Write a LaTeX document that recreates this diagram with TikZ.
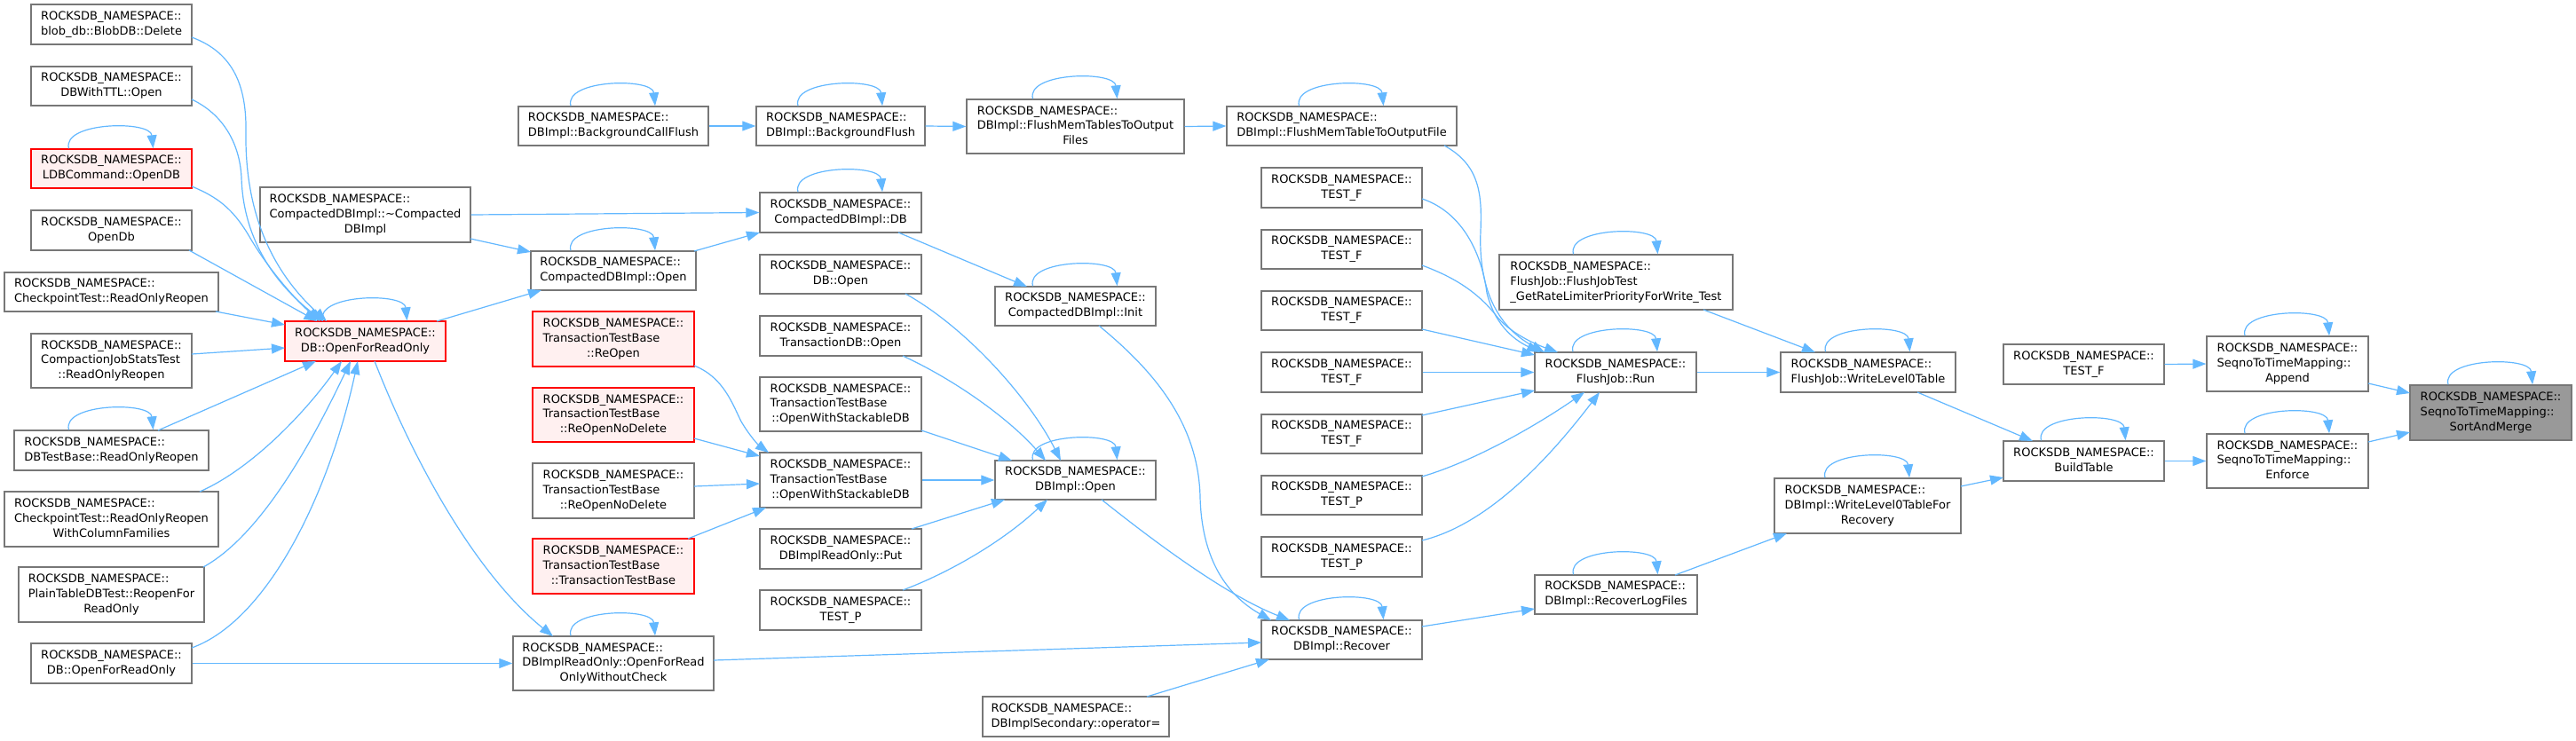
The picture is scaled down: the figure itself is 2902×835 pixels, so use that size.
\documentclass[tikz,border=0pt]{standalone}
\usepackage{fontspec}
\setmainfont{DejaVu Sans}
\usetikzlibrary{arrows.meta,calc}
\definecolor{edgec}{HTML}{63B8FF}
\definecolor{bord}{HTML}{777777}
\definecolor{rfill}{HTML}{FFF0F0}
\definecolor{gfill}{HTML}{999999}
\newcommand\lb[2]{\begin{tabular}{@{}l@{}}#1\\\multicolumn{1}{@{}c@{}}{#2}\end{tabular}}
\newcommand\rns{ROCKSDB\_NAMESPACE::}
\tikzset{
  nbox/.style={draw=bord, line width=1.4pt, fill=white, inner sep=0pt, text=black,
    font=\fontsize{13}{16.7}\selectfont},
  rbox/.style={nbox, draw=red, fill=rfill},
  gbox/.style={nbox, fill=gfill},
  sz/.style 2 args={minimum width=#1pt, minimum height=#2pt},
  cedge/.style={draw=edgec, line width=1.2pt, -{Triangle[length=15pt,width=11pt]}},
}
\begin{document}
\begin{tikzpicture}[x=1pt,y=-1pt]
\useasboundingbox[fill=white] (0,0) rectangle (2902,835);
% column 1
\node[nbox,sz={181}{45}] (blobdel) at (125.5,27.5) {\lb{\rns}{blob\_db::BlobDB::Delete}};
\node[nbox,sz={181}{44}] (ttl) at (125.5,97) {\lb{\rns}{DBWithTTL::Open}};
\node[rbox,sz={181}{44}] (ldb) at (125.5,190) {\lb{\rns}{LDBCommand::OpenDB}};
\node[nbox,sz={181}{45}] (opendb) at (125.5,259.5) {\lb{\rns}{OpenDb}};
\node[nbox,sz={241}{44}] (cpro) at (125.5,329) {\lb{\rns}{CheckpointTest::ReadOnlyReopen}};
\node[nbox,sz={181}{61}] (cjst) at (125.5,406.5) {\lb{\rns\\CompactionJobStatsTest}{::ReadOnlyReopen}};
\node[nbox,sz={219}{45}] (dbtb) at (125.5,507.5) {\lb{\rns}{DBTestBase::ReadOnlyReopen}};
\node[nbox,sz={241}{62}] (cprocf) at (125.5,585) {\lb{\rns\\CheckpointTest::ReadOnlyReopen}{WithColumnFamilies}};
\node[nbox,sz={209}{62}] (ptdb) at (125.5,670) {\lb{\rns\\PlainTableDBTest::ReopenFor}{ReadOnly}};
\node[nbox,sz={181}{45}] (dbofro2) at (125.5,747.5) {\lb{\rns}{DB::OpenForReadOnly}};
% column 2
\node[rbox,sz={181}{45}] (dbo) at (411.5,384.5) {\lb{\rns}{DB::OpenForReadOnly}};
\node[nbox,sz={237}{62}] (dtor) at (411.5,242) {\lb{\rns\\CompactedDBImpl::\textasciitilde Compacted}{DBImpl}};
% column 3
\node[nbox,sz={214}{44}] (bgcf) at (691,142) {\lb{\rns}{DBImpl::BackgroundCallFlush}};
\node[nbox,sz={186}{44}] (cdopen) at (691,305) {\lb{\rns}{CompactedDBImpl::Open}};
\node[rbox,sz={182}{62}] (reopen) at (691,382) {\lb{\rns\\TransactionTestBase}{::ReOpen}};
\node[rbox,sz={182}{61}] (rondr) at (691,467.5) {\lb{\rns\\TransactionTestBase}{::ReOpenNoDelete}};
\node[nbox,sz={182}{62}] (rond) at (691,553) {\lb{\rns\\TransactionTestBase}{::ReOpenNoDelete}};
\node[rbox,sz={182}{62}] (ttb) at (691,638) {\lb{\rns\\TransactionTestBase}{::TransactionTestBase}};
\node[nbox,sz={226}{61}] (ofrowc) at (691,747.5) {\lb{\rns\\DBImplReadOnly::OpenForRead}{OnlyWithoutCheck}};
% column 4
\node[nbox,sz={190}{44}] (bgf) at (947,142) {\lb{\rns}{DBImpl::BackgroundFlush}};
\node[nbox,sz={182}{45}] (cddb) at (947,239.5) {\lb{\rns}{CompactedDBImpl::DB}};
\node[nbox,sz={182}{44}] (dbopen) at (947,309) {\lb{\rns}{DB::Open}};
\node[nbox,sz={182}{45}] (txdbopen) at (947,378.5) {\lb{\rns}{TransactionDB::Open}};
\node[nbox,sz={182}{61}] (ows1) at (947,455.5) {\lb{\rns\\TransactionTestBase}{::OpenWithStackableDB}};
\node[nbox,sz={182}{62}] (ows2) at (947,541) {\lb{\rns\\TransactionTestBase}{::OpenWithStackableDB}};
\node[nbox,sz={182}{45}] (roput) at (947,618.5) {\lb{\rns}{DBImplReadOnly::Put}};
\node[nbox,sz={182}{45}] (testp0) at (947,687.5) {\lb{\rns}{TEST\_P}};
% column 5
\node[nbox,sz={245}{61}] (fmtofs) at (1211.5,142.5) {\lb{\rns\\DBImpl::FlushMemTablesToOutput}{Files}};
\node[nbox,sz={181}{44}] (init) at (1211.5,345) {\lb{\rns}{CompactedDBImpl::Init}};
\node[nbox,sz={181}{44}] (dbiopen) at (1211.5,541) {\lb{\rns}{DBImpl::Open}};
\node[nbox,sz={210}{45}] (secop) at (1212,807.5) {\lb{\rns}{DBImplSecondary::operator=}};
% column 6
\node[nbox,sz={259}{44}] (fmtof) at (1511.5,142) {\lb{\rns}{DBImpl::FlushMemTableToOutputFile}};
\node[nbox,sz={181}{45}] (tf1) at (1511.5,211.5) {\lb{\rns}{TEST\_F}};
\node[nbox,sz={181}{44}] (tf2) at (1511.5,281) {\lb{\rns}{TEST\_F}};
\node[nbox,sz={181}{44}] (tf3) at (1511.5,350) {\lb{\rns}{TEST\_F}};
\node[nbox,sz={181}{45}] (tf4) at (1511.5,419.5) {\lb{\rns}{TEST\_F}};
\node[nbox,sz={181}{44}] (tf5) at (1511.5,489) {\lb{\rns}{TEST\_F}};
\node[nbox,sz={181}{44}] (tp1) at (1511.5,558) {\lb{\rns}{TEST\_P}};
\node[nbox,sz={181}{45}] (tp2) at (1511.5,627.5) {\lb{\rns}{TEST\_P}};
\node[nbox,sz={181}{44}] (recover) at (1511.5,721) {\lb{\rns}{DBImpl::Recover}};
% column 7
\node[nbox,sz={182}{45}] (run) at (1820,419.5) {\lb{\rns}{FlushJob::Run}};
\node[nbox,sz={263}{62}] (fjt) at (1820.5,318) {\lb{\rns\\FlushJob::FlushJobTest}{\_GetRateLimiterPriorityForWrite\_Test}};
\node[nbox,sz={183}{44}] (rlf) at (1820.5,670) {\lb{\rns}{DBImpl::RecoverLogFiles}};
% column 8
\node[nbox,sz={197}{45}] (wl0) at (2104.5,419.5) {\lb{\rns}{FlushJob::WriteLevel0Table}};
\node[nbox,sz={210}{62}] (wl0r) at (2104,570) {\lb{\rns\\DBImpl::WriteLevel0TableFor}{Recovery}};
% column 9
\node[nbox,sz={181}{45}] (tfr) at (2347.5,410.5) {\lb{\rns}{TEST\_F}};
\node[nbox,sz={181}{45}] (build) at (2347.5,519.5) {\lb{\rns}{BuildTable}};
% column 10
\node[nbox,sz={182}{62}] (append) at (2577,410) {\lb{\rns\\SeqnoToTimeMapping::}{Append}};
\node[nbox,sz={182}{61}] (enforce) at (2577,519.5) {\lb{\rns\\SeqnoToTimeMapping::}{Enforce}};
% column 11
\node[gbox,sz={182}{62}] (sam) at (2806,465) {\lb{\rns\\SeqnoToTimeMapping::}{SortAndMerge}};

% self loops
\foreach \n in {ldb,dbtb,dbo,cdopen,cddb,bgcf,bgf,fmtofs,fmtof,init,dbiopen,ofrowc,run,fjt,wl0,wl0r,rlf,recover,build,append,enforce,sam}
  \draw[cedge] ($(\n.north)+(-48,0)$) .. controls ($(\n.north)+(-56,-30)$) and ($(\n.north)+(44,-32)$) .. ($(\n.north)+(47,0)$);

% edges into DB::OpenForReadOnly
\draw[cedge] ($(blobdel)+(90.5,14.5)$) .. controls (265,60) and (278,100) .. (277,150) .. controls (276,230) and (300,300) .. ($(dbo)+(-43.5,-22.5)$);
\draw[cedge] ($(ttl)+(90.5,15)$) .. controls (250,128) and (270,160) .. (272,200) .. controls (274,270) and (310,320) .. ($(dbo)+(-47.5,-22.5)$);
\draw[cedge] ($(ldb)+(90.5,20)$) .. controls (245,222) and (262,235) .. (280,265) .. controls (300,300) and (330,335) .. ($(dbo)+(-51,-22.5)$);
\draw[cedge] ($(opendb)+(87.5,22.5)$) -- ($(dbo)+(-54,-22.5)$);
\draw[cedge] ($(cpro)+(117.5,22)$) -- ($(dbo)+(-90.5,-18.5)$);
\draw[cedge] ($(cjst)+(90.5,-7.5)$) -- ($(dbo)+(-90.5,7.5)$);
\draw[cedge] ($(dbtb)+(52.5,-22.5)$) -- ($(dbo)+(-55.5,22.5)$);
\draw[cedge] ($(cprocf)+(99.5,-31)$) .. controls (280,530) and (340,470) .. ($(dbo)+(-26.5,22.5)$);
\draw[cedge] ($(ptdb)+(103.5,-31)$) .. controls (300,600) and (360,480) .. ($(dbo)+(-16.5,22.5)$);
\draw[cedge] ($(dbofro2)+(90.5,-17.5)$) .. controls (300,700) and (370,560) .. ($(dbo)+(-8.5,22.5)$);
\draw[cedge] (dbofro2.east) -- (ofrowc.west);
\draw[cedge] ($(dbo)+(10.5,22.5)$) .. controls (470,530) and (540,650) .. ($(ofrowc)+(-68,-30.5)$);
\draw[cedge] ($(dbo)+(80.5,-22.5)$) -- ($(cdopen)+(-81,22)$);
% compacted
\draw[cedge] (dtor.east) -- (cddb.west);
\draw[cedge] ($(dtor)+(118.5,27)$) -- ($(cdopen)+(-93,-21)$);
\draw[cedge] ($(cdopen)+(91,-22)$) -- ($(cddb)+(-91,22.5)$);
% flush chain
\draw[cedge] (bgcf.east) -- (bgf.west);
\draw[cedge] (bgf.east) -- (fmtofs.west);
\draw[cedge] (fmtofs.east) -- (fmtof.west);
\draw[cedge] ($(fmtof)+(115.5,22)$) .. controls (1665,185) and (1670,215) .. (1668,260) .. controls (1665,330) and (1690,370) .. ($(run)+(-80,-22.5)$);
\draw[cedge] ($(tf1)+(90.5,12.5)$) .. controls (1650,240) and (1670,290) .. (1675,330) .. controls (1685,370) and (1710,385) .. ($(run)+(-85,-22.5)$);
\draw[cedge] ($(tf2)+(90.5,18)$) .. controls (1640,313) and (1665,330) .. (1685,355) .. controls (1700,375) and (1730,388) .. ($(run)+(-65,-22.5)$);
\draw[cedge] ($(tf3)+(90.5,21)$) -- ($(run)+(-91,-19.5)$);
\draw[cedge] (tf4.east) -- (run.west);
\draw[cedge] ($(tf5)+(90.5,-21)$) -- ($(run)+(-91,20.5)$);
\draw[cedge] ($(tp1)+(90.5,-21)$) .. controls (1660,520) and (1730,480) .. ($(run)+(-35,22.5)$);
\draw[cedge] ($(tp2)+(90.5,-18.5)$) .. controls (1680,590) and (1750,510) .. ($(run)+(-18,22.5)$);
\draw[cedge] (run.east) -- (wl0.west);
\draw[cedge] ($(fjt)+(98.5,31)$) -- ($(wl0)+(-59.5,-22.5)$);
\draw[cedge] ($(wl0)+(55.5,22.5)$) -- ($(build)+(-57.5,-22.5)$);
\draw[cedge] ($(wl0r)+(105,-22)$) -- ($(build)+(-90.5,18.5)$);
\draw[cedge] ($(rlf)+(66.5,-22)$) -- ($(wl0r)+(-91,31)$);
\draw[cedge] ($(recover)+(90.5,-15)$) -- ($(rlf)+(-91.5,16)$);
% into Recover
\draw[cedge] ($(ofrowc)+(113,-3.5)$) -- ($(recover)+(-90.5,3)$);
\draw[cedge] ($(dbiopen)+(29.5,22)$) .. controls (1300,610) and (1380,670) .. ($(recover)+(-58.5,-22)$);
\draw[cedge] ($(init)+(26.5,22)$) .. controls (1290,410) and (1350,470) .. (1352,560) .. controls (1354,640) and (1390,675) .. ($(recover)+(-79.5,-22)$);
\draw[cedge] ($(secop)+(80,-22.5)$) -- ($(recover)+(-81.5,22)$);
\draw[cedge] ($(cddb)+(65,22.5)$) -- ($(init)+(-54.5,-22)$);
% into DBImpl::Open
\draw[cedge] ($(dbopen)+(73,22)$) .. controls (1090,370) and (1160,450) .. ($(dbiopen)+(-16.5,-22)$);
\draw[cedge] ($(txdbopen)+(70,22.5)$) .. controls (1080,430) and (1140,475) .. ($(dbiopen)+(-33.5,-22)$);
\draw[cedge] ($(ows1)+(91,29.5)$) -- ($(dbiopen)+(-71.5,-22)$);
\draw[cedge] (ows2.east) -- (dbiopen.west);
\draw[cedge] ($(roput)+(80,-22.5)$) -- ($(dbiopen)+(-79.5,22)$);
\draw[cedge] ($(testp0)+(70,-22.5)$) .. controls (1070,645) and (1130,610) .. ($(dbiopen)+(-31.5,22)$);
% into OpenWithStackableDB
\draw[cedge] ($(rondr)+(91,26.5)$) -- ($(ows2)+(-91,-27)$);
\draw[cedge] ($(rond)+(91,-5)$) -- ($(ows2)+(-91,4)$);
\draw[cedge] ($(ttb)+(84,-31)$) -- ($(ows2)+(-84,31)$);
\draw[cedge] ($(reopen)+(91,30)$) .. controls (815,425) and (825,455) .. (835,475) .. controls (845,492) and (855,502) .. ($(ows2)+(-81,-31)$);
% right part
\draw[cedge] (tfr.east) -- (append.west);
\draw[cedge] (build.east) -- (enforce.west);
\draw[cedge] ($(append)+(91,22)$) -- ($(sam)+(-91,-22)$);
\draw[cedge] ($(enforce)+(91,-21.5)$) -- ($(sam)+(-91,22)$);
\end{tikzpicture}
\end{document}
